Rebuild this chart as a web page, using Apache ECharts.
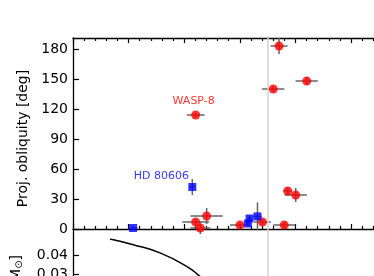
<!DOCTYPE html>
<html>
<head>
<meta charset="utf-8">
<script src="https://cdn.jsdelivr.net/npm/echarts@6/dist/echarts.min.js"></script>
<style>
html, body { margin: 0; padding: 0; background: #fff; }
#chartWrap { width: 374px; height: 276px; }
</style>
</head>
<body>
<div id="chartWrap"></div>
<script>
// hot/cool host stars: Teff [K] vs projected obliquity [deg]
const redTeff = [5603, 5603, 5645, 5702, 6002, 6204, 6400, 6431, 6503, 6301, 6602, 6353]
const redTeffErr = [80, 120, 90, 145, 90, 75, 100, 40, 100, 100, 100, 76]
const redObl = [114, 7, 1, 13, 4, 7, 4, 38, 34, 140, 148, 183]
const redOblErr = [2, 3, 6, 8, 2, 3, 3, 4, 7, 3, 4, 8]
const redNames = ['WASP-8', '', '', '', '', '', '', '', '', '', '', '']

const blueTeff = [5040, 5573, 6073, 6088, 6159]
const blueTeffErr = [40, 25, 20, 20, 40]
const blueObl = [1, 42, 5.5, 10.5, 12.6]
const blueOblErr = [2, 8, 3, 3, 14]
const blueNames = ['', 'HD 80606', '', '', '']

// convective zone mass curve (lower panel)
const czTeff = [4833, 5042, 5282, 5522, 5642, 5800]
const czMass = [0.0491, 0.0460, 0.0415, 0.0342, 0.0287, 0.021]

const oblTicks = [0, 30, 60, 90, 120, 150, 180]
const czTicks = [0.03, 0.04]
const kraftBreak = 6250

const font = 'DejaVu Sans'
const black = '#000'

function errorData(xs, xe, ys, ye) {
    return xs.map((x, i) => [x, ys[i], xe[i], ye[i]])
}

function pointData(xs, ys, names, offsets) {
    return xs.map((x, i) => {
        const item = { value: [x, ys[i]] }
        if (names[i]) {
            item.label = {
                show: true,
                position: 'inside',
                formatter: names[i],
                offset: offsets[names[i]]
            }
        }
        return item
    })
}

function errorBarItem(params, api) {
    const x = api.value(0), y = api.value(1), dx = api.value(2), dy = api.value(3)
    const l = api.coord([x - dx, y]), r = api.coord([x + dx, y])
    const b = api.coord([x, y - dy]), t = api.coord([x, y + dy])
    const st = { stroke: '#666', lineWidth: 1.5 }
    return {
        type: 'group',
        children: [
            { type: 'line', shape: { x1: l[0], y1: l[1], x2: r[0], y2: r[1] }, style: st },
            { type: 'line', shape: { x1: b[0], y1: b[1], x2: t[0], y2: t[1] }, style: st }
        ]
    }
}

const breakLine = {
    silent: true,
    symbol: 'none',
    label: { show: false },
    lineStyle: { color: '#d2d2d2', width: 1.5, type: 'solid' },
    data: [{ xAxis: kraftBreak }]
}

const tickStyle = { lineStyle: { color: black, width: 1.2 } }

function teffAxis(grid, pos, ticks) {
    return {
        type: 'value', gridIndex: grid, position: pos,
        min: 4500, max: 7500, interval: 500,
        axisLine: { lineStyle: { color: black, width: 1.3 } },
        axisTick: Object.assign({ show: ticks, inside: true, length: 5 }, tickStyle),
        minorTick: Object.assign({ show: ticks, splitNumber: 5, length: 3 }, tickStyle),
        axisLabel: { show: false },
        splitLine: { show: false }
    }
}

const chart = echarts.init(document.getElementById('chartWrap'))

// the figure is cropped: both panels run past the right and bottom edges
chart.setOption({
    animation: false,
    backgroundColor: '#fff',
    grid: [
        { left: 73, top: 38, right: -32.6, bottom: 37, outerBoundsMode: 'none' },
        { left: 73, top: 239, right: -32.6, bottom: -52.9, outerBoundsMode: 'none' }
    ],
    xAxis: [
        teffAxis(0, 'bottom', true),
        teffAxis(0, 'top', true),
        teffAxis(1, 'top', false)
    ],
    yAxis: [
        {
            type: 'value', gridIndex: 0, min: -10, max: 191,
            name: 'Proj. obliquity [deg]', nameLocation: 'middle', nameGap: 38,
            nameTextStyle: { fontFamily: font, fontSize: 14, color: black },
            axisLine: { show: true, lineStyle: { color: black, width: 1.3 } },
            axisTick: Object.assign({ inside: true, length: 6, customValues: oblTicks }, tickStyle),
            axisLabel: { customValues: oblTicks, fontFamily: font, fontSize: 14, color: black, margin: 5 },
            splitLine: { show: false }
        },
        {
            type: 'value', gridIndex: 1, min: 0, max: 0.0491,
            axisLine: { show: true, lineStyle: { color: black, width: 1.3 } },
            axisTick: Object.assign({ inside: true, length: 6, customValues: czTicks }, tickStyle),
            axisLabel: {
                customValues: czTicks, fontFamily: font, fontSize: 14, color: black, margin: 5,
                formatter: v => v.toFixed(2)
            },
            splitLine: { show: false }
        }
    ],
    graphic: [
        {
            type: 'text', x: 16, y: 255, rotation: Math.PI / 2,
            style: {
                text: 'M{s|cz} [M{s|⊙}]',
                align: 'right', verticalAlign: 'middle',
                fontFamily: font, fontSize: 14, fill: black,
                rich: { s: { fontFamily: font, fontSize: 10, padding: [6, 0, 0, 0] } }
            }
        }
    ],
    series: [
        {
            type: 'custom', xAxisIndex: 0, yAxisIndex: 0, z: 1,
            renderItem: errorBarItem,
            encode: { x: 0, y: 1 },
            data: errorData(redTeff, redTeffErr, redObl, redOblErr).concat(
                errorData(blueTeff, blueTeffErr, blueObl, blueOblErr)),
            markLine: breakLine
        },
        {
            type: 'scatter', xAxisIndex: 0, yAxisIndex: 0, z: 3,
            symbol: 'circle', symbolSize: 9,
            itemStyle: { color: '#ff0000' },
            label: { fontFamily: font, fontSize: 11, color: '#ff0000' },
            data: pointData(redTeff, redObl, redNames, { 'WASP-8': [-2, -14] })
        },
        {
            type: 'scatter', xAxisIndex: 0, yAxisIndex: 0, z: 3,
            symbol: 'rect', symbolSize: 8,
            itemStyle: { color: '#0000ff' },
            label: { fontFamily: font, fontSize: 11, color: '#0000ff' },
            data: pointData(blueTeff, blueObl, blueNames, { 'HD 80606': [-31, -11] })
        },
        {
            type: 'line', xAxisIndex: 2, yAxisIndex: 1, z: 2,
            smooth: true, showSymbol: false,
            lineStyle: { color: black, width: 1.5 },
            data: czTeff.map((t, i) => [t, czMass[i]]),
            markLine: breakLine
        }
    ]
})
</script>
</body>
</html>
